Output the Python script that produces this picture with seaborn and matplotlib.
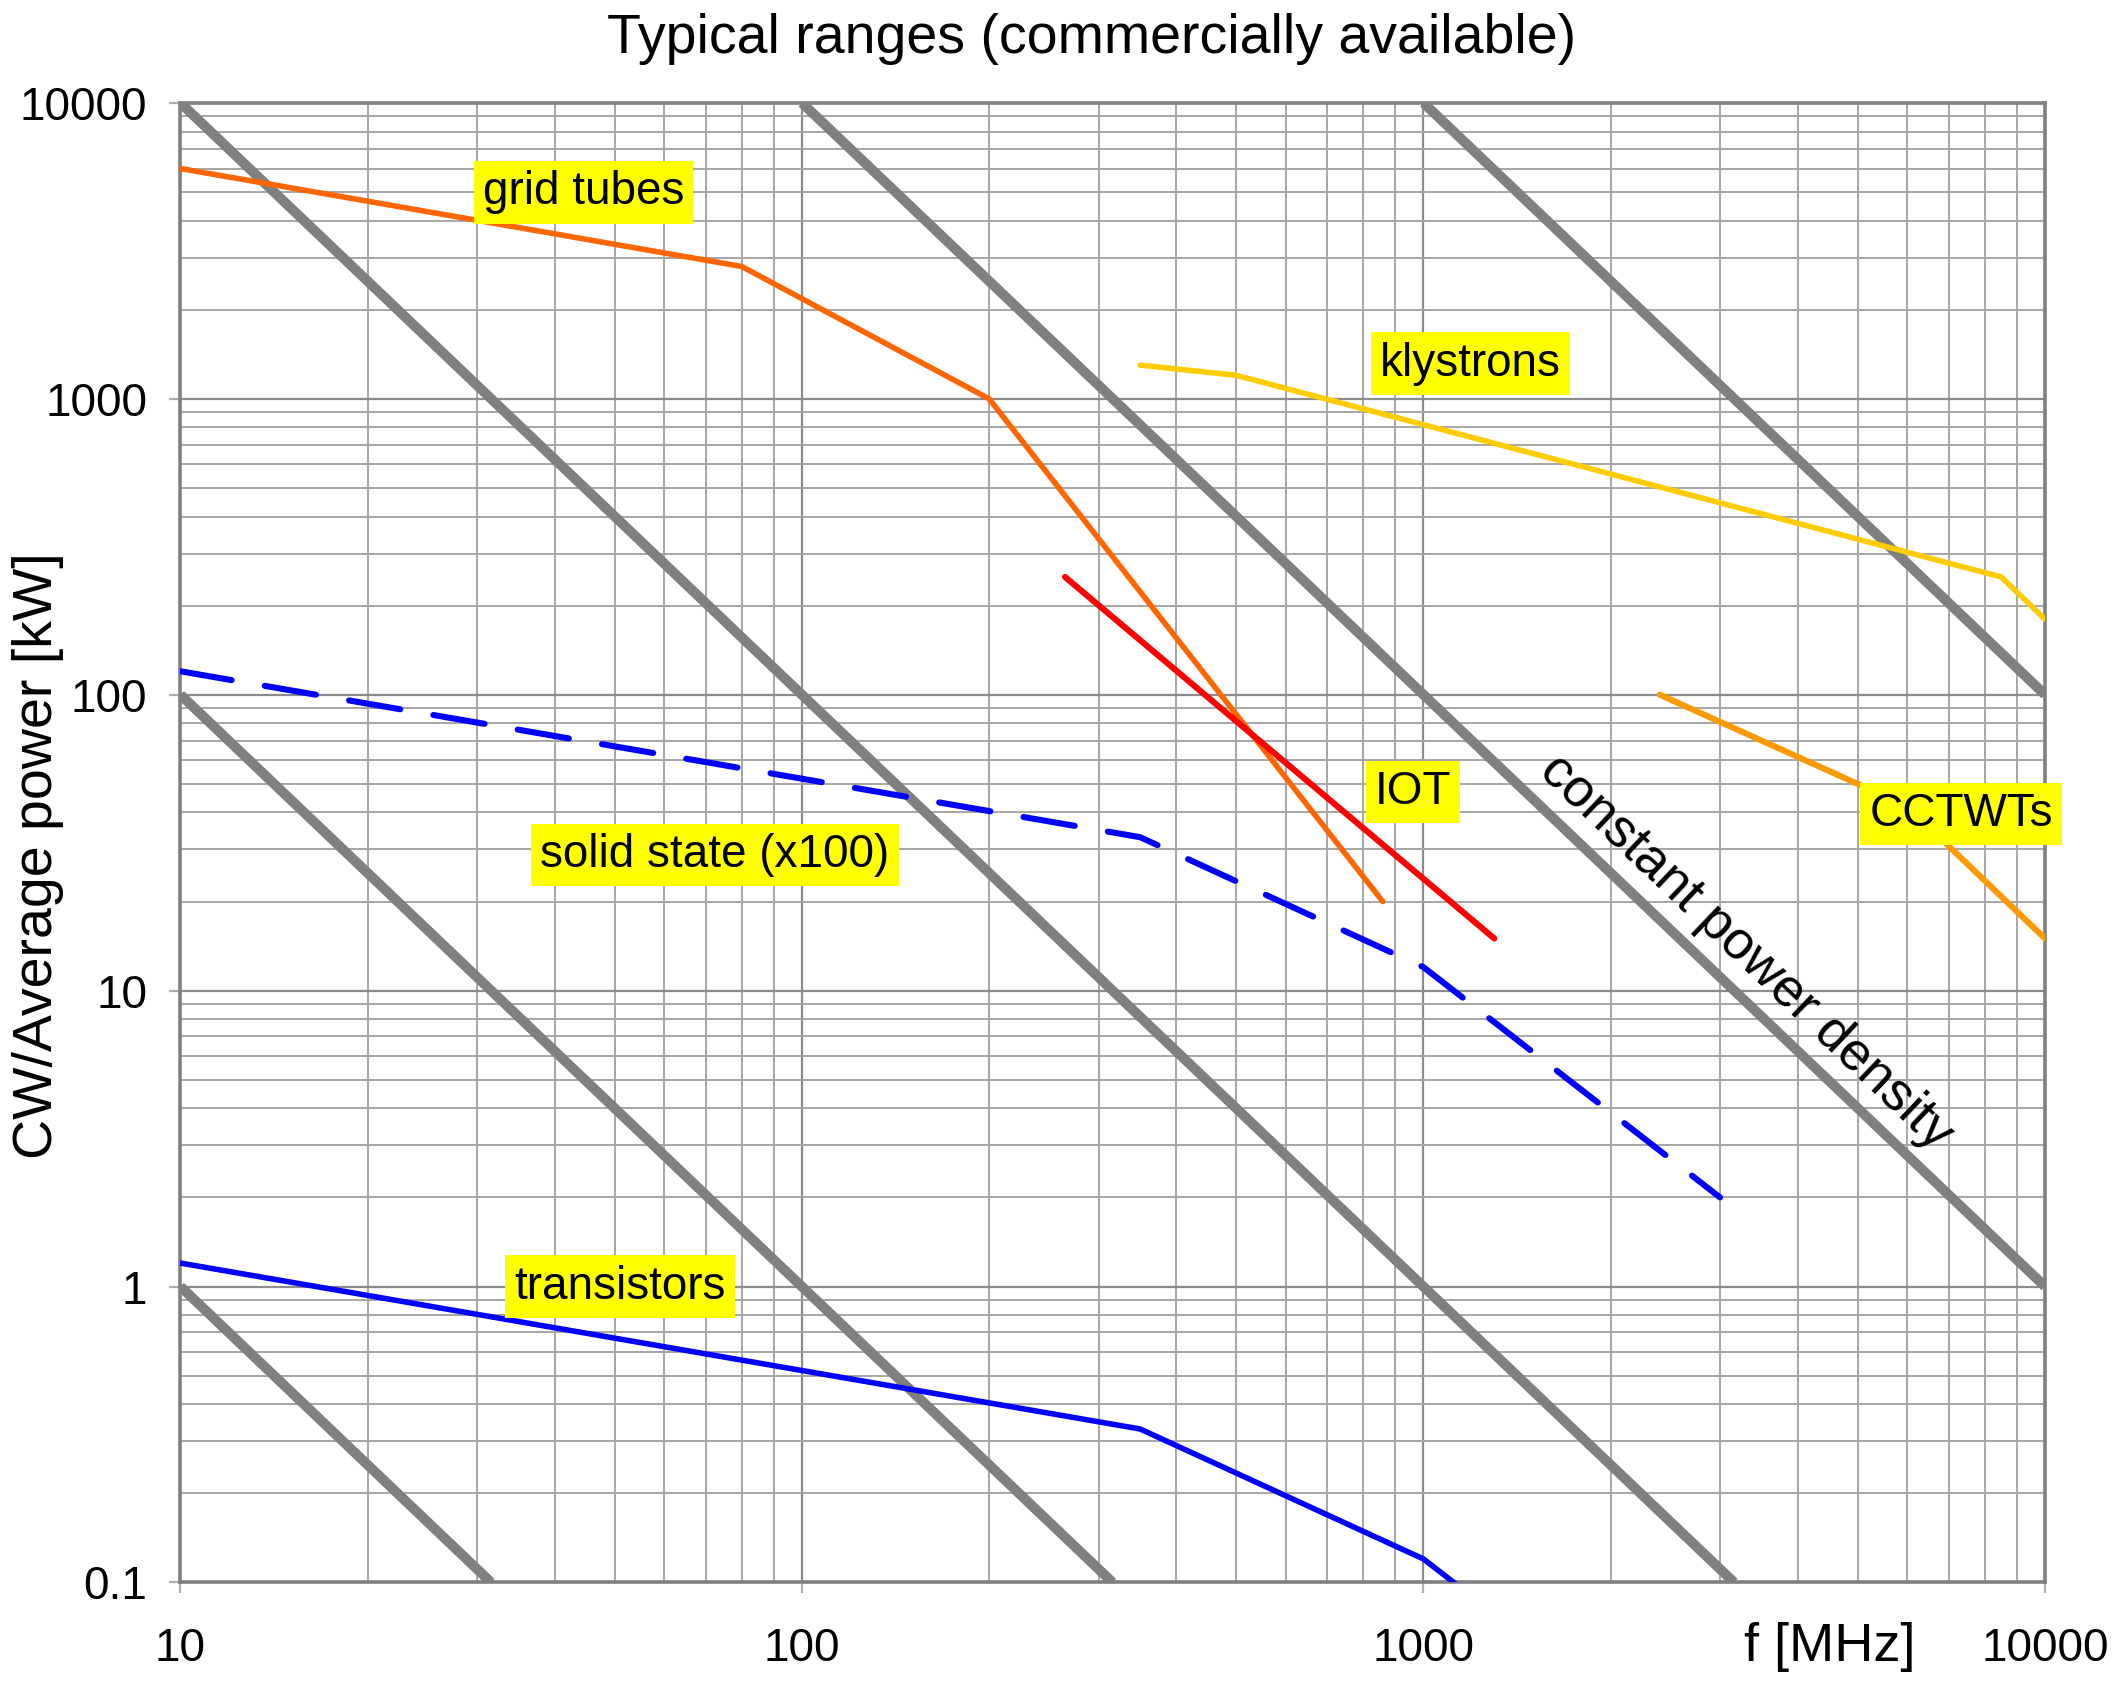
import numpy as np
import pandas as pd
import matplotlib
matplotlib.use("Agg")
import matplotlib.pyplot as plt
import matplotlib.ticker as mticker
import seaborn as sns

# ------------------------------------------
# Data
# ------------------------------------------

grid_f = [10, 80, 200, 860]
grid_p = [6000, 2800, 1000, 20]

iot_f = [265, 1300]
iot_p = [250, 15]

kly_f = [350, 500, 8500, 10000]
kly_p = [1300, 1200, 250, 180]

cctwt_f = [2400, 6000, 10000]
cctwt_p = [100, 42, 15]

solid_f = [10, 350, 1000, 3000]
solid_p = [120, 33, 12, 2]

trans_f = [10, 350, 1000, 3000]
trans_p = [1.2, 0.33, 0.12, 0.02]

# constant power density lines (start / end points)
const_f = [[10, 31.6], [10, 316], [10, 3160], [100, 10000], [1000, 10000]]
const_p = [[1, 0.1], [100, 0.1], [10000, 0.1], [10000, 1], [10000, 100]]

y_ticks = [0.1, 1, 10, 100, 1000, 10000]
y_labels = ["0.1", "1", "10", "100", "1000", "10000"]
x_ticks = [10, 100, 1000, 10000]
x_labels = ["10", "100", "1000", "10000"]

# ------------------------------------------
# Style
# ------------------------------------------

sns.set_style("white")
plt.rcParams['font.family'] = ['Liberation Sans', 'DejaVu Sans']
plt.rcParams['text.color'] = 'black'
plt.rcParams['xtick.color'] = 'black'
plt.rcParams['ytick.color'] = 'black'
fs = 16.5
fs_big = 20

fig = plt.figure(figsize=(10.64, 8.435), dpi=200)
ax = fig.add_axes([0.0848, 0.062, 0.961 - 0.0848, 0.939 - 0.062])

ax.set_xscale("log")
ax.set_yscale("log")
ax.set_xlim(10, 10000)
ax.set_ylim(0.1, 10000)

# ------------------------------------------
# Lines
# ------------------------------------------

for fx, py in zip(const_f, const_p):
    sns.lineplot(x=fx, y=py, ax=ax, color="#808080", lw=3.6,
                 solid_capstyle="butt", zorder=3)

sns.lineplot(x=grid_f, y=grid_p, ax=ax, color="#FF6600", lw=2.0,
             solid_capstyle="round", zorder=4)
sns.lineplot(x=iot_f, y=iot_p, ax=ax, color="#FF0000", lw=2.2,
             solid_capstyle="round", zorder=4)
sns.lineplot(x=kly_f, y=kly_p, ax=ax, color="#FFCC00", lw=2.0,
             solid_capstyle="round", zorder=4)
sns.lineplot(x=cctwt_f, y=cctwt_p, ax=ax, color="#FF9900", lw=2.2,
             solid_capstyle="round", zorder=4)
sns.lineplot(x=trans_f, y=trans_p, ax=ax, color="#0000FF", lw=2.0,
             solid_capstyle="round", zorder=4)
sns.lineplot(x=solid_f, y=solid_p, ax=ax, color="#0000FF", lw=2.2,
             linestyle=(0, (8.5, 5.5)), dash_capstyle="round", zorder=4)

# ------------------------------------------
# Labels
# ------------------------------------------

box = dict(boxstyle="square,pad=0.2", fc="#FFFF00", ec="none")
labels = [
    ("grid tubes", 44.5, 4980),
    ("klystrons", 1190, 1315),
    ("IOT", 962, 47),
    ("CCTWTs", 7330, 39.5),
    ("solid state (x100)", 72.4, 28.8),
    ("transistors", 51, 1.0),
]
for txt, fx, py in labels:
    ax.text(fx, py, txt, fontsize=fs, ha="center", va="center",
            bbox=box, zorder=6, clip_on=False)

ax.text(3300, 13.5, "constant power density", fontsize=19.3, rotation=-43.6,
        ha="center", va="center", rotation_mode="anchor", zorder=6)

# ------------------------------------------
# Axes, grid, ticks
# ------------------------------------------

ax.yaxis.set_major_locator(mticker.FixedLocator(y_ticks))
ax.yaxis.set_major_formatter(mticker.FixedFormatter(y_labels))
ax.xaxis.set_major_locator(mticker.FixedLocator(x_ticks))
ax.xaxis.set_major_formatter(mticker.FixedFormatter(x_labels))
ax.xaxis.set_minor_locator(mticker.LogLocator(base=10, subs=np.arange(2, 10)))
ax.yaxis.set_minor_locator(mticker.LogLocator(base=10, subs=np.arange(2, 10)))
ax.xaxis.set_minor_formatter(mticker.NullFormatter())
ax.yaxis.set_minor_formatter(mticker.NullFormatter())

ax.grid(True, which="major", color="#8c8c8c", lw=0.8, zorder=0)
ax.grid(True, which="minor", color="#a6a6a6", lw=0.7, zorder=0)
ax.set_axisbelow(True)

ax.tick_params(axis="both", which="major", labelsize=fs, length=4,
               color="#b0b0b0", labelcolor="black", direction="out")
ax.tick_params(axis="x", which="major", pad=12)
ax.tick_params(axis="y", which="major", pad=8)
ax.tick_params(which="minor", length=0)
ax.tick_params(bottom=True, left=True)

for sp in ax.spines.values():
    sp.set_color("#808080")
    sp.set_linewidth(1.3)

ax.set_xlabel("")
ax.set_ylabel("")

fig.text(0.513, 0.977, "Typical ranges (commercially available)",
         fontsize=fs_big, ha="center", va="center", color="black")
fig.text(0.018, 0.493, "CW/Average power [kW]", fontsize=fs_big,
         rotation=90, ha="center", va="center", color="black")
fig.text(0.860, 0.024, "f [MHz]", fontsize=19.5, ha="center", va="center",
         color="black")

fig.savefig("out.png", dpi=200)
